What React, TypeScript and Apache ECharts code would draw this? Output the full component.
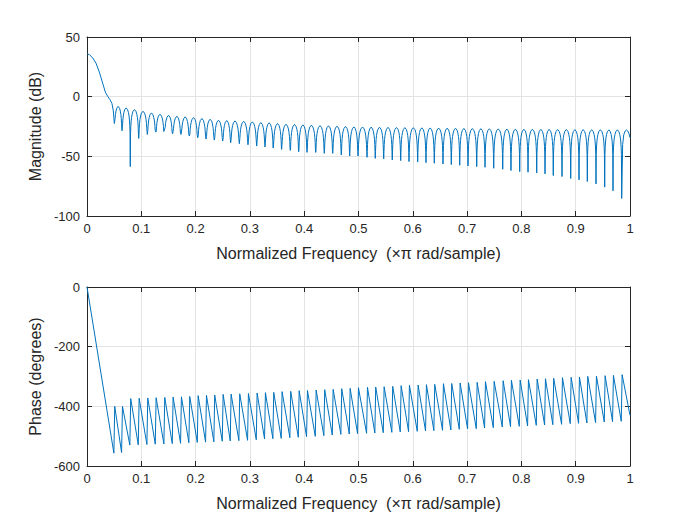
import React, { useEffect, useRef } from "react";
import * as echarts from "echarts";

// ---- Data ----
// Main lobe of the magnitude response (normalized frequency, dB)
const MAIN_LOBE_F = [0, 0.0043, 0.0104, 0.0166, 0.0227, 0.0288, 0.0337, 0.038, 0.0423, 0.046, 0.0485];
const MAIN_LOBE_DB = [35.8, 35.3, 32.5, 28.1, 20.6, 11.4, 3.9, 0.3, -2.5, -5.8, -12];

// Stop-band nulls: frequency and sampled depth (dB)
const NULL_F = [
  0.0503, 0.0645, 0.0797, 0.0952, 0.1111, 0.1265, 0.1424, 0.1578, 0.1731, 0.1884, 0.2039, 0.2192, 0.2344, 0.2499,
  0.2646, 0.2805, 0.2965, 0.3125, 0.3278, 0.3431, 0.3585, 0.3744, 0.3899, 0.4052, 0.4212, 0.437, 0.4525, 0.4683,
  0.4838, 0.4991, 0.5157, 0.5309, 0.5464, 0.5622, 0.5777, 0.593, 0.609, 0.6243, 0.6396, 0.6556, 0.6709, 0.6864,
  0.7017, 0.7177, 0.733, 0.749, 0.7656, 0.7808, 0.7969, 0.8122, 0.8282, 0.8435, 0.8587, 0.8748, 0.8908, 0.9061,
  0.9214, 0.9374, 0.9534, 0.9687, 0.9847,
];
const NULL_DB = [
  -22.5, -28.6, -58.6, -35, -31.7, -29.7, -29.4, -31.1, -31.7, -33, -34.4, -35.5, -36.4, -37.2,
  -38.6, -39.4, -40.3, -41.4, -42.2, -43.1, -44.2, -45, -46.1, -46.7, -46.7, -47.5, -47.5, -48.9, -49.7, -49.7,
  -50.8, -51.7, -52.2, -53.1, -53.6, -54.4, -54.7, -55.3, -55.8, -56.4, -56.9, -57.5, -58.1, -58.6, -59.2, -60,
  -60.8, -61.9, -62.8, -63.3, -63.9, -64.7, -66.1, -66.9, -68.6, -69.7, -71.1, -73.1, -75.8, -78.9, -85.3,
];
// Side-lobe peak levels (dB), one per lobe between consecutive nulls
const PEAK_DB = [
  -8.1, -9.4, -10.8, -12.2, -13.6, -14.7, -15.6, -16.4, -16.9, -17.5, -18.3, -18.9, -19.7, -20.0,
  -20.3, -20.6, -21.1, -21.7, -21.9, -22.5, -23.1, -23.3, -23.6, -23.9, -24.2, -24.4, -24.7, -25.0, -25.3, -25.4,
  -25.5, -25.6, -25.7, -25.8, -25.9, -26.0, -26.1, -26.2, -26.3, -26.4, -26.5, -26.6, -26.7, -26.8, -26.9, -27.0,
  -27.1, -27.2, -27.3, -27.3, -27.4, -27.4, -27.5, -27.5, -27.6, -27.6, -27.7, -27.7, -27.8, -27.8,
];
// Typical arch of one side lobe as seen in the picture: position within the lobe, level below its peak (dB)
const LOBE_SHAPE_T = [0.03, 0.06, 0.1, 0.15, 0.22, 0.32, 0.5, 0.68, 0.78, 0.85, 0.9, 0.94, 0.97];
const LOBE_SHAPE_DB = [-20.6, -14.5, -10.2, -6.8, -4.0, -1.6, 0, -1.6, -4.0, -6.8, -10.2, -14.5, -20.6];
// Partial lobe after the last null, up to the right edge
const TAIL_F = [0.9865, 0.9885, 0.991, 0.9935, 0.996, 0.998, 1.0];
const TAIL_DB = [-40, -32, -28.8, -27.9, -28.8, -30.8, -34.4];

// Phase (degrees): value just before and just after each null's jump
const PHASE_LOW = [
  -557, -555, -530, -529, -528, -527, -526, -525, -524, -522, -521, -520, -519, -517, -516, -515, -514, -512,
  -509.5, -508.4, -507.3, -505, -503.9, -501.7, -500.6, -498.3, -496.1, -493.9, -492.8, -491.6, -490.5, -489.4,
  -488.3, -487.2, -486, -484.9, -483.8, -482.7, -481.6,
  -480.4, -479.3, -477.1, -476, -474.9, -472.6, -471.5, -469.3, -468.2, -467, -465.9, -463.7, -462.6, -461.5,
  -460.3, -458.1, -457, -455.9, -454.7, -452.5, -451.4, -450.3,
];
const PHASE_HIGH = [
  -400, -400, -374, -373, -372, -371, -370, -369, -368, -367, -364, -363, -362, -360, -359, -358, -357, -355.3,
  -354.2, -353.1, -350.8, -349.7, -347.5, -346.9, -345.3, -344.1, -343, -340.8, -339.7, -337.4, -336.3, -335.2,
  -334.1, -333, -330.7, -329.6, -328.5, -327.4, -326.3,
  -324, -323.5, -321.8, -320.7, -319.6, -317.3, -316.2, -314, -312.8, -311.7, -310.6, -308.4, -307.3, -306.1,
  -303.9, -302.8, -301.7, -299.4, -298.3, -297.2, -296.1, -293.9,
];
const PHASE_START = 0;
const PHASE_END = -430;

const X_TICKS_MIN = 0;
const X_TICKS_MAX = 1;
const MAG_MIN = -100;
const MAG_MAX = 50;
const PHASE_MIN = -600;
const PHASE_MAX = 0;

const X_LABEL = "Normalized Frequency  (\u00d7\u03c0 rad/sample)";

function buildMagnitude(): number[][] {
  const pts: number[][] = [];
  MAIN_LOBE_F.forEach((f, i) => pts.push([f, MAIN_LOBE_DB[i]]));
  for (let k = 0; k < NULL_F.length - 1; k++) {
    pts.push([NULL_F[k], NULL_DB[k]]);
    const w = NULL_F[k + 1] - NULL_F[k];
    LOBE_SHAPE_T.forEach((t, j) => {
      const v = PEAK_DB[k] + LOBE_SHAPE_DB[j];
      const floor = t < 0.5 ? NULL_DB[k] : NULL_DB[k + 1];
      if (v > floor) pts.push([NULL_F[k] + t * w, v]);
    });
  }
  pts.push([NULL_F[NULL_F.length - 1], NULL_DB[NULL_DB.length - 1]]);
  TAIL_F.forEach((f, i) => pts.push([f, TAIL_DB[i]]));
  return pts;
}

function buildPhase(): number[][] {
  const pts: number[][] = [[0, PHASE_START]];
  NULL_F.forEach((f, k) => {
    pts.push([f - 0.0008, PHASE_LOW[k]]);
    pts.push([f + 0.0008, PHASE_HIGH[k]]);
  });
  pts.push([1, PHASE_END]);
  return pts;
}

const FONT = "'Liberation Sans', Arial, Helvetica, sans-serif";
const AX = "#262626";
const GRIDC = "#e3e3e3";
const TICK_FS = 13;
const NAME_FS = 16;

function xAxes(gridIndex: number) {
  const base = {
    gridIndex,
    type: "value" as const,
    min: X_TICKS_MIN,
    max: X_TICKS_MAX,
    interval: 0.1,
    axisLine: { show: true, onZero: false, lineStyle: { color: AX, width: 1 } },
    axisTick: { show: true, inside: true, length: 5, lineStyle: { color: AX, width: 1 } },
  };
  return [
    {
      ...base,
      position: "bottom",
      axisLabel: { show: true, color: AX, fontSize: TICK_FS, fontFamily: FONT, margin: 6 },
      splitLine: { show: true, lineStyle: { color: GRIDC, width: 1 } },
      name: X_LABEL,
      nameLocation: "middle",
      nameGap: 29,
      nameTextStyle: { color: AX, fontSize: NAME_FS, fontFamily: FONT },
    },
    {
      ...base,
      position: "top",
      axisLabel: { show: false },
      splitLine: { show: false },
    },
  ];
}

function yAxes(gridIndex: number, min: number, max: number, interval: number, name: string) {
  const base = {
    gridIndex,
    type: "value" as const,
    min,
    max,
    interval,
    axisLine: { show: true, onZero: false, lineStyle: { color: AX, width: 1 } },
    axisTick: { show: true, inside: true, length: 5, lineStyle: { color: AX, width: 1 } },
  };
  return [
    {
      ...base,
      position: "left",
      axisLabel: { show: true, color: AX, fontSize: TICK_FS, fontFamily: FONT, margin: 7 },
      splitLine: { show: true, lineStyle: { color: GRIDC, width: 1 } },
      name,
      nameLocation: "middle",
      nameGap: 39,
      nameRotate: 90,
      nameTextStyle: { color: AX, fontSize: NAME_FS, fontFamily: FONT },
    },
    {
      ...base,
      position: "right",
      axisLabel: { show: false },
      splitLine: { show: false },
    },
  ];
}

export default function App() {
  const ref = useRef<HTMLDivElement>(null);
  useEffect(() => {
    if (!ref.current) return;
    const chart = echarts.init(ref.current, undefined, { renderer: "svg" });
    chart.setOption({
      animation: false,
      backgroundColor: "#ffffff",
      grid: [
        { left: 87, top: 37, width: 543, height: 179, containLabel: false },
        { left: 87, top: 287, width: 543, height: 179, containLabel: false },
      ],
      xAxis: [...xAxes(0), ...xAxes(1)],
      yAxis: [
        ...yAxes(0, MAG_MIN, MAG_MAX, 50, "Magnitude (dB)"),
        ...yAxes(1, PHASE_MIN, PHASE_MAX, 200, "Phase (degrees)"),
      ],
      series: [
        {
          type: "line",
          xAxisIndex: 0,
          yAxisIndex: 0,
          data: buildMagnitude(),
          showSymbol: false,
          symbol: "none",
          lineStyle: { color: "#0072BD", width: 1 },
          clip: true,
        },
        {
          type: "line",
          xAxisIndex: 2,
          yAxisIndex: 2,
          data: buildPhase(),
          showSymbol: false,
          symbol: "none",
          lineStyle: { color: "#0072BD", width: 1 },
          clip: true,
        },
      ],
    });
    return () => chart.dispose();
  }, []);
  return (
    <div
      ref={ref}
      style={{ position: "fixed", left: 0, top: 0, width: 692, height: 522, background: "#fff" }}
    />
  );
}
